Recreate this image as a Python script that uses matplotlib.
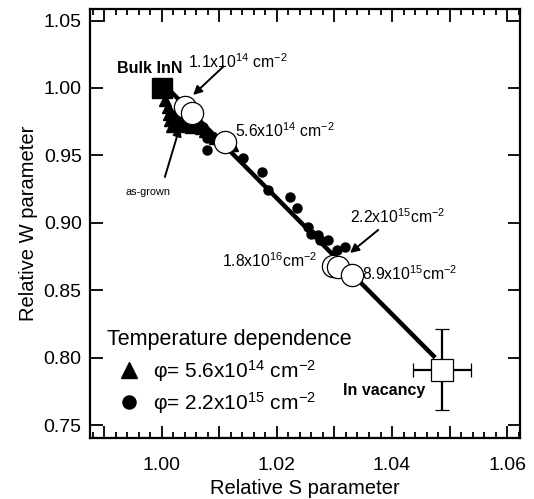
import matplotlib
matplotlib.use("Agg")
import matplotlib.pyplot as plt
from matplotlib.ticker import MultipleLocator

plt.rcParams['font.family'] = ['Liberation Sans', 'DejaVu Sans']
plt.rcParams['mathtext.fontset'] = 'custom'
plt.rcParams['mathtext.rm'] = 'Liberation Sans'
plt.rcParams['mathtext.it'] = 'Liberation Sans'

# reference points
bulk_s = [1.000]
bulk_w = [1.000]
vac_s = [1.0487]
vac_w = [0.791]
vac_s_err = [0.0051]
vac_w_err = [0.030]

# irradiated samples (open circles)
flu_s = [1.0040, 1.0052, 1.0110, 1.0297, 1.0306, 1.0330]
flu_w = [0.9860, 0.9815, 0.9600, 0.8680, 0.8670, 0.8610]

# fitted line bulk -> vacancy
line_s = [1.0000, 1.0475]
line_w = [1.0040, 0.8000]

# temperature dependence, 5.6e14
tri_s = [1.0005, 1.0010, 1.0012, 1.0014, 1.0018, 1.0022, 1.0026, 1.0030, 1.0035,
         1.0040, 1.0045, 1.0050, 1.0056, 1.0062, 1.0068, 1.0075, 1.0082, 1.0092, 1.0122]
tri_w = [0.991, 0.986, 0.981, 0.976, 0.972, 0.979, 0.984, 0.975, 0.972,
         0.978, 0.974, 0.971, 0.976, 0.973, 0.970, 0.968, 0.966, 0.963, 0.958]

# temperature dependence, 2.2e15
dot_s = [1.0040, 1.0060, 1.0071, 1.0078, 1.0078, 1.0141, 1.0174, 1.0185, 1.0223, 1.0235,
         1.0254, 1.0260, 1.0271, 1.0275, 1.0289, 1.0304, 1.0318]
dot_w = [0.980, 0.975, 0.971, 0.963, 0.954, 0.948, 0.938, 0.924, 0.919, 0.911,
         0.897, 0.892, 0.891, 0.887, 0.887, 0.880, 0.882]

xtick_vals = [0.99, 1.00, 1.01, 1.02, 1.03, 1.04, 1.05, 1.06]
xtick_labels = ['', '1.00', '', '1.02', '', '1.04', '', '1.06']
ytick_vals = [0.75, 0.80, 0.85, 0.90, 0.95, 1.00, 1.05]
ytick_labels = ['0.75', '0.80', '0.85', '0.90', '0.95', '1.00', '1.05']

fig = plt.figure(figsize=(5.34, 4.99), dpi=100)
ax = fig.add_axes([90/534, 1 - 438/499, 430/534, 429/499])

ax.plot(line_s, line_w, color='k', lw=3.2, solid_capstyle='butt', zorder=2)
dots, = ax.plot(dot_s, dot_w, 'o', color='k', ms=6.5, ls='none', zorder=3)
tris, = ax.plot(tri_s, tri_w, '^', color='k', ms=8, ls='none', zorder=3)
ax.plot(flu_s, flu_w, 'o', mfc='white', mec='k', mew=0.9, ms=16, ls='none', zorder=4)
ax.plot(bulk_s, bulk_w, 's', color='k', ms=14.4, ls='none', zorder=5)
ax.errorbar(vac_s, vac_w, xerr=vac_s_err, yerr=vac_w_err, fmt='s', mfc='white', mec='k',
            mew=0.9, ms=15.5, ecolor='k', elinewidth=1.6, capsize=5, capthick=1.6, zorder=5)

arrow = dict(arrowstyle='-|>', color='k', lw=1.4, mutation_scale=13, shrinkA=0, shrinkB=0)
ax.text(1.0045, 1.0148, '1.1x10$^{14}$ cm$^{-2}$', fontsize=11.3, ha='left', va='baseline')
ax.annotate('', xy=(1.0054, 0.9948), xytext=(1.0106, 1.0156), arrowprops=arrow)
ax.text(1.0127, 0.9636, '5.6x10$^{14}$ cm$^{-2}$', fontsize=11.3, ha='left', va='baseline')
ax.text(0.9936, 0.9206, 'as-grown', fontsize=7.8, ha='left', va='baseline')
ax.annotate('', xy=(1.0031, 0.971), xytext=(1.0005, 0.934), arrowprops=arrow)
ax.text(1.0327, 0.8999, '2.2x10$^{15}$cm$^{-2}$', fontsize=11.3, ha='left', va='baseline')
ax.annotate('', xy=(1.0327, 0.8776), xytext=(1.0376, 0.8947), arrowprops=arrow)
ax.text(1.0270, 0.8672, '1.8x10$^{16}$cm$^{-2}$', fontsize=11.3, ha='right', va='baseline')
ax.text(1.0348, 0.8576, '8.9x10$^{15}$cm$^{-2}$', fontsize=11.3, ha='left', va='baseline')
ax.text(0.9922, 1.0111, 'Bulk InN', fontsize=11.5, fontweight='bold', ha='left', va='baseline')
ax.text(1.0315, 0.7723, 'In vacancy', fontsize=11.5, fontweight='bold', ha='left', va='baseline')

ax.text(0.9904, 0.8093, 'Temperature dependence', fontsize=15.5, ha='left', va='baseline')
ax.legend([tris, dots], ['φ= 5.6x10$^{14}$ cm$^{-2}$', 'φ= 2.2x10$^{15}$ cm$^{-2}$'],
          loc='center left', bbox_to_anchor=(0.045, 0.119),
          frameon=False, fontsize=15, markerscale=1.45,
          handlelength=1.9, handletextpad=0.2, labelspacing=0.3, borderpad=0,
          borderaxespad=0)

ax.set_xlim(0.98748, 1.06226)
ax.set_ylim(0.74036, 1.0586)
ax.set_xticks(xtick_vals)
ax.set_xticklabels(xtick_labels)
ax.xaxis.set_minor_locator(MultipleLocator(0.002))
ax.set_yticks(ytick_vals)
ax.set_yticklabels(ytick_labels)
ax.tick_params(which='both', direction='in', top=True, right=True, width=1.3, labelsize=14)
ax.tick_params(axis='y', pad=6)
ax.tick_params(axis='x', pad=14)
ax.tick_params(which='major', length=9)
ax.tick_params(which='minor', length=4.5)
for sp in ax.spines.values():
    sp.set_linewidth(1.6)

ax.set_xlabel('Relative S parameter', fontsize=14.5, labelpad=3.5)
ax.set_ylabel('Relative W parameter', fontsize=14.5, labelpad=4)

fig.savefig('out.png', dpi=100)
